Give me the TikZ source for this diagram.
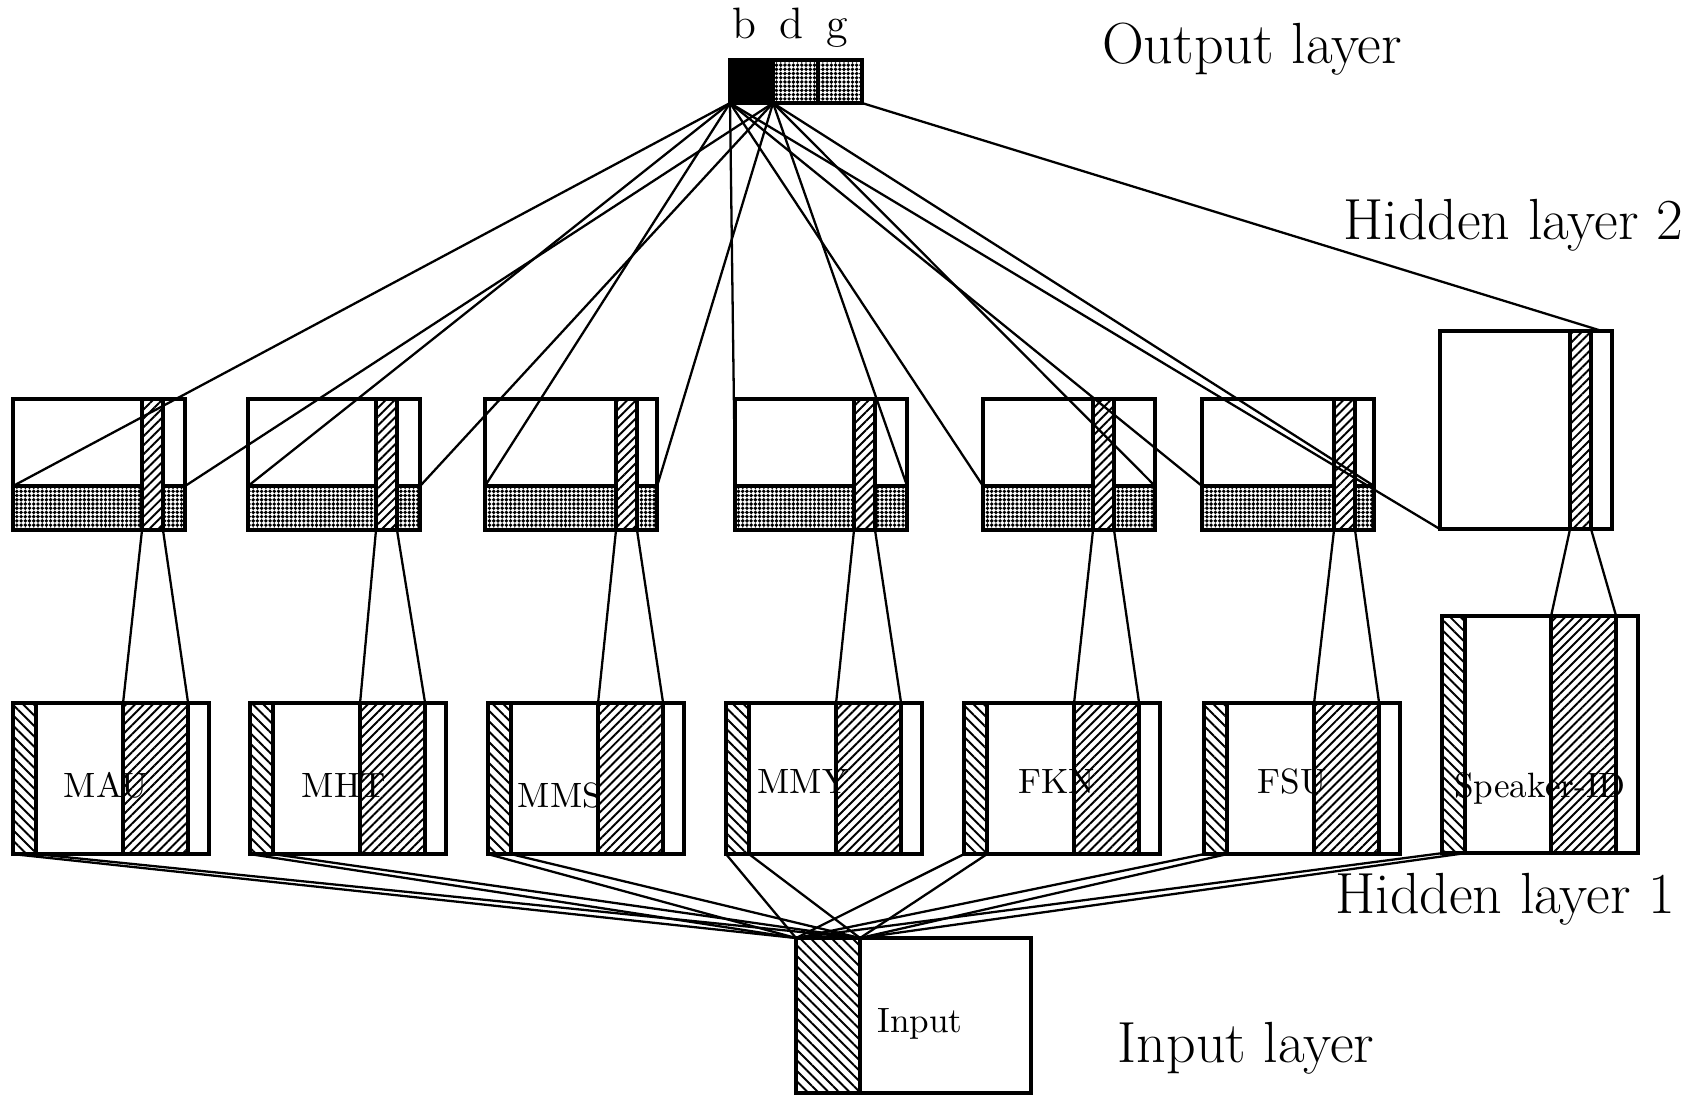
\documentclass[tikz,border=0pt]{standalone}
\usepackage{fontspec}
\usetikzlibrary{
	patterns.meta,
	positioning
}

\begin{document}
\begin{tikzpicture}[
        x=0.01cm, y=-0.01cm,
        % 基本矩形 (plain cell, placed by its north west corner)
        cell/.style={
            rectangle, draw, line width=1.1pt,
            inner sep=0pt, outer sep=0pt,
            anchor=north west
        },
        % 网点填充 (dotted units)
        dotfill/.style={cell, pattern={Dots[distance=1.2pt, radius=.55pt]}},
        % 斜线填充 (hatched columns)
        hatchNE/.style={cell, preaction={fill=white}, pattern={Lines[angle=45, distance=1.8pt, line width=.55pt]}},
        hatchNW/.style={cell, preaction={fill=white}, pattern={Lines[angle=-45, distance=2.1pt, line width=.55pt]}},
        % 各层尺寸 (layer sizes)
        h2box/.style={cell, minimum width=1.72cm, minimum height=1.31cm},
        h2strip/.style={dotfill, minimum width=1.72cm, minimum height=.44cm},
        h2col/.style={hatchNE, minimum width=.21cm, minimum height=1.31cm},
        h1box/.style={cell, minimum width=1.96cm, minimum height=1.51cm},
        h1left/.style={hatchNW, minimum width=.23cm, minimum height=1.51cm},
        h1col/.style={hatchNE, minimum width=.65cm, minimum height=1.51cm},
        % 文字 (texts)
        caption/.style={anchor=base, inner sep=0pt, font=\fontsize{16.5}{20}\selectfont\addfontfeature{LetterSpace=2.5}},
        unitlabel/.style={anchor=base, inner sep=0pt, font=\fontsize{12.5}{15}\selectfont},
        modlabel/.style={anchor=base, inner sep=0pt, font=\fontsize{10}{12}\selectfont},
        link/.style={line width=.65pt}
    ]

        \useasboundingbox (0,0) rectangle (1704,1099);

        % ====================
        % 输出层 (Output layer)
        % ====================
        \node[cell, fill=black, minimum width=.43cm, minimum height=.43cm] (out_b) at (730,60) {};
        \node[dotfill, minimum width=.45cm, minimum height=.43cm, right=0pt of out_b] (out_d) {};
        \node[dotfill, minimum width=.44cm, minimum height=.43cm, right=0pt of out_d] (out_g) {};

        \node[unitlabel] (lab_b) at (744,38) {b};
        \node[unitlabel] (lab_d) at (791,38) {d};
        \node[unitlabel] (lab_g) at (837,38) {g};

        % ====================
        % 第二隐层 (Hidden layer 2)
        % ====================
        \node[h2strip] (h2s_1) at (13,486) {};
        \node[h2col] (h2h_1) at (142,399) {};
        \node[h2box] (h2_1) at (13,399) {};

        \node[h2strip] (h2s_2) at (248,486) {};
        \node[h2col] (h2h_2) at (376,399) {};
        \node[h2box] (h2_2) at (248,399) {};

        \node[h2strip] (h2s_3) at (485,486) {};
        \node[h2col] (h2h_3) at (616,399) {};
        \node[h2box] (h2_3) at (485,399) {};

        \node[h2strip] (h2s_4) at (735,486) {};
        \node[h2col] (h2h_4) at (854,399) {};
        \node[h2box] (h2_4) at (735,399) {};

        \node[h2strip] (h2s_5) at (983,486) {};
        \node[h2col] (h2h_5) at (1093,399) {};
        \node[h2box] (h2_5) at (983,399) {};

        \node[h2strip] (h2s_6) at (1202,486) {};
        \node[h2col] (h2h_6) at (1334,399) {};
        \node[h2box] (h2_6) at (1202,399) {};

        % 说话人识别模块 (speaker ID, taller and without dotted units)
        \node[h2col, minimum height=1.98cm] (h2h_7) at (1570,331) {};
        \node[h2box, minimum height=1.98cm] (h2_7) at (1440,331) {};
        \coordinate (spk_in) at (1602,331);

        % ====================
        % 第一隐层 (Hidden layer 1)
        % ====================
        \node[h1left] (h1l_1) at (13,703) {};
        \node[h1col] (h1h_1) at ([xshift=1.1cm]h1l_1.north west) {};
        \node[h1box] (h1_1) at (13,703) {};
        \node[modlabel] at (106,797) {MAU};

        \node[h1left] (h1l_2) at (250,703) {};
        \node[h1col] (h1h_2) at ([xshift=1.1cm]h1l_2.north west) {};
        \node[h1box] (h1_2) at (250,703) {};
        \node[modlabel] at (344,797) {MHT};

        \node[h1left] (h1l_3) at (488,703) {};
        \node[h1col] (h1h_3) at ([xshift=1.1cm]h1l_3.north west) {};
        \node[h1box] (h1_3) at (488,703) {};
        \node[modlabel] at (560,807) {MMS};

        \node[h1left] (h1l_4) at (726,703) {};
        \node[h1col] (h1h_4) at ([xshift=1.1cm]h1l_4.north west) {};
        \node[h1box] (h1_4) at (726,703) {};
        \node[modlabel] at (803,793) {MMY};

        \node[h1left] (h1l_5) at (964,703) {};
        \node[h1col] (h1h_5) at ([xshift=1.1cm]h1l_5.north west) {};
        \node[h1box] (h1_5) at (964,703) {};
        \node[modlabel] at (1057,793) {FKN};

        \node[h1left] (h1l_6) at (1204,703) {};
        \node[h1col] (h1h_6) at ([xshift=1.1cm]h1l_6.north west) {};
        \node[h1box] (h1_6) at (1204,703) {};
        \node[modlabel] at (1292,793) {FSU};

        \node[h1left, minimum height=2.37cm] (h1l_7) at (1442,616) {};
        \node[h1col, minimum height=2.37cm] (h1h_7) at ([xshift=1.09cm]h1l_7.north west) {};
        \node[h1box, minimum height=2.37cm] (h1_7) at (1442,616) {};
        \node[modlabel] at (1540,797) {Speaker-ID};

        % ====================
        % 输入层 (Input layer)
        % ====================
        \node[hatchNW, minimum width=.64cm, minimum height=1.55cm] (in_strip) at (796,938) {};
        \node[cell, minimum width=2.35cm, minimum height=1.55cm] (in_box) at (796,938) {};
        \node[modlabel] at (920,1032) {Input};

        % ====================
        % 层名称 (Layer captions)
        % ====================
        \node[caption] at (1252,63) {Output layer};
        \node[caption] at (1513,239) {Hidden layer 2};
        \node[caption] at (1505,913) {Hidden layer 1};
        \node[caption] at (1246,1062) {Input layer};

        % ====================
        % 连线 (Connections)
        % ====================

        % 第二隐层 -> 输出层
        \draw[link] (out_b.south west) -- (h2s_1.north west);
        \draw[link] (out_b.south east) -- (h2s_1.north east);
        \draw[link] (out_b.south west) -- (h2s_2.north west);
        \draw[link] (out_b.south east) -- (h2s_2.north east);
        \draw[link] (out_b.south west) -- (h2s_3.north west);
        \draw[link] (out_b.south east) -- (h2s_3.north east);
        \draw[link] (out_b.south west) -- (h2s_4.north west);
        \draw[link] (out_b.south east) -- (h2s_4.north east);
        \draw[link] (out_b.south west) -- (h2s_5.north west);
        \draw[link] (out_b.south east) -- (h2s_5.north east);
        \draw[link] (out_b.south west) -- (h2s_6.north west);
        \draw[link] (out_b.south east) -- (h2s_6.north east);
        \draw[link] (out_b.south west) -- (h2_7.south west);
        \draw[link] (out_g.south east) -- (spk_in);

        % 第一隐层 -> 第二隐层
        \draw[link] (h1h_1.north west) -- (h2h_1.south west);
        \draw[link] (h1h_1.north east) -- (h2h_1.south east);
        \draw[link] (h1h_2.north west) -- (h2h_2.south west);
        \draw[link] (h1h_2.north east) -- (h2h_2.south east);
        \draw[link] (h1h_3.north west) -- (h2h_3.south west);
        \draw[link] (h1h_3.north east) -- (h2h_3.south east);
        \draw[link] (h1h_4.north west) -- (h2h_4.south west);
        \draw[link] (h1h_4.north east) -- (h2h_4.south east);
        \draw[link] (h1h_5.north west) -- (h2h_5.south west);
        \draw[link] (h1h_5.north east) -- (h2h_5.south east);
        \draw[link] (h1h_6.north west) -- (h2h_6.south west);
        \draw[link] (h1h_6.north east) -- (h2h_6.south east);
        \draw[link] (h1h_7.north west) -- (h2h_7.south west);
        \draw[link] (h1h_7.north east) -- (h2h_7.south east);

        % 输入层 -> 第一隐层
        \draw[link] (in_strip.north west) -- (h1l_1.south west);
        \draw[link] (in_strip.north east) -- (h1l_1.south east);
        \draw[link] (in_strip.north west) -- (h1l_2.south west);
        \draw[link] (in_strip.north east) -- (h1l_2.south east);
        \draw[link] (in_strip.north west) -- (h1l_3.south west);
        \draw[link] (in_strip.north east) -- (h1l_3.south east);
        \draw[link] (in_strip.north west) -- (h1l_4.south west);
        \draw[link] (in_strip.north east) -- (h1l_4.south east);
        \draw[link] (in_strip.north west) -- (h1l_5.south west);
        \draw[link] (in_strip.north east) -- (h1l_5.south east);
        \draw[link] (in_strip.north west) -- (h1l_6.south west);
        \draw[link] (in_strip.north east) -- (h1l_6.south east);
        \draw[link] (in_strip.north west) -- (h1l_7.south west);
        \draw[link] (in_strip.north east) -- (h1l_7.south east);

    \end{tikzpicture}
\end{document}
